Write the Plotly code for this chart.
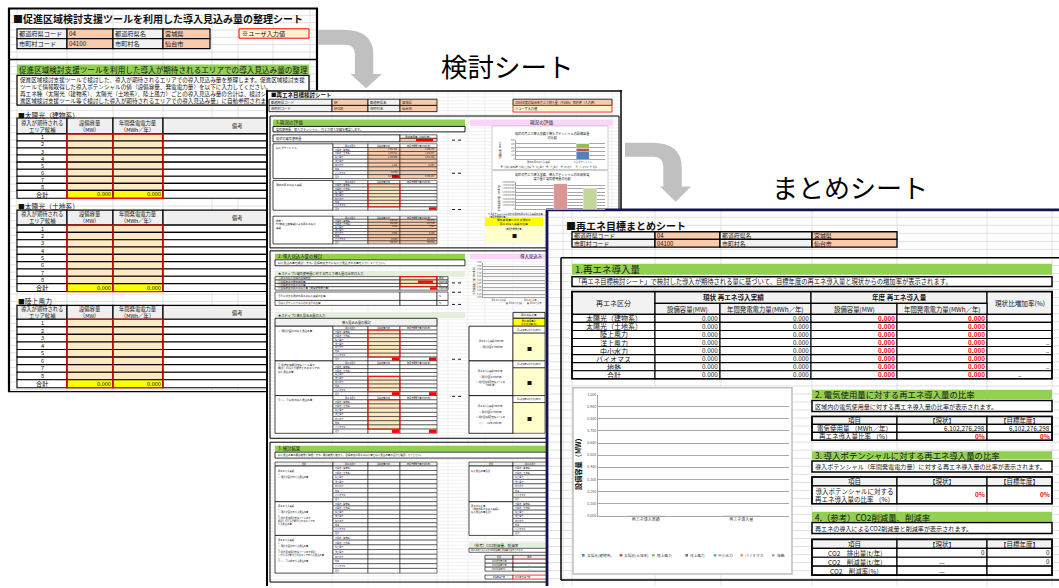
import plotly.graph_objects as go

# ======================= DATA =======================
pref_code = "04"
pref_name = "宮城県"
city_code = "04100"
city_name = "仙台市"
info_labels = ["都道府県コード", "都道府県名", "市町村コード", "市町村名"]
user_input_note = "※ユーザ入力値"
label_kentou = "検討シート"
label_matome = "まとめシート"

# --- sheet 1 (促進区域 整理シート)
s1_title = "■促進区域検討支援ツールを利用した導入見込み量の整理シート"
s1_section = "促進区域検討支援ツールを利用した導入が期待されるエリアでの導入見込み量の整理"
s1_desc = [
    "促進区域検討支援ツールで検討した、導入が期待されるエリアでの導入見込み量を整理します。促進区域検討支援",
    "ツールで情報取得した導入ポテンシャルの値（設備容量、発電電力量）を以下に入力してください。",
    "再エネ種（太陽光（建物系）、太陽光（土地系）、陸上風力）ごとの導入見込み量の合計は、検討シ",
    "進区域検討支援ツール等で検討した導入が期待されるエリアでの導入見込み量」に自動参照されま",
]
s1_tables = ["■太陽光（建物系）", "■太陽光（土地系）", "■陸上風力"]
s1_headers = ["導入が期待される<br>エリア候補", "設備容量<br>（MW）", "年間発電電力量<br>（MWh／年）", "備考"]
s1_area_no = ["1", "2", "3", "4", "5", "6", "7", "8"]
s1_total_label = "合計"
s1_total_mw = [0.000, 0.000, 0.000]
s1_total_mwh = [0.000, 0.000, 0.000]

# --- sheet 2 (検討シート)
s2_title = "■再エネ目標検討シート"
s2_target_note = "2050年度の自治体再エネ導入量（千kWh）目標値（入力値）"
s2_headers = ["再エネ区分", "設備容量(MW)", "年間発電電力量(MWh/年)"]
s2_categories = ["太陽光（建物系）", "太陽光（土地系）", "陸上風力", "洋上風力", "中小水力", "地熱", "バイオマス", "合計"]
s2_potential_mw = ["1,961.301", "1,078.512", "2,183.000", "-", "2.341", "-", "52.800", "5,277.954"]
s2_potential_mwh = ["2,456,180", "1,342,067", "4,921,553", "-", "12,307", "-", "-", "8,732,107"]
s2_actual_mw = ["", "", "", "", "", "", "", ""]
s2_actual_mwh = ["-", "-", "-", "-", "-", "-", "-", ""]
s2_fit_mw = ["130.412", "512.080", "3.960", "-", "0.985", "-", "33.020", "680.457"]
s2_fit_mwh = ["151,284", "617,930", "7,920", "-", "5,180", "-", "211,328", "993,642"]
s2_dash = ["-", "-", "-", "-", "-", "-", "-", ""]
s2_step1_labels = ["①再エネ導入目標の目標年度", "②目標年度の電気使用量", "③目標年度の再エネ比率",
                   "④目標年度の再エネ導入量（年間発電電力量）", "⑤④に対する現状の再エネ導入実績の比率",
                   "⑥導入ポテンシャルに対する④の比率"]
s2_step1_units = ["年度", "MWh/年", "%", "MWh/年", "%", "%"]
s2_block_labels = ["① 現計計画分の導入見込み量",
                   "② 促進区域検討支援ツール等で<br>検討した導入が期待されるエリアの<br>導入見込み量",
                   "③ ①、②以外の導入見込み量"]
s2_block_right = ["再エネ導入実績(MWh/年)<br>+<br>① 現計計画分(MWh/年)",
                  "再エネ導入実績(MWh/年)<br>+<br>① 現計計画分(MWh/年)<br>+<br>② 促進区域検討支援ツール等<br>(MWh/年)",
                  "再エネ導入実績(MWh/年)<br>+<br>① 現計計画分(MWh/年)<br>+<br>② 促進区域検討支援ツール等<br>+<br>③ ①、②以外(MWh/年)"]
s2_result_labels = ["再エネ導入実績<br>+<br>① 現計計画分の導入見込み量",
                    "再エネ導入実績<br>+<br>① 現計計画分の導入見込み量<br>+<br>② 促進区域検討支援ツール等で<br>検討した導入が期待されるエリアの<br>導入見込み量",
                    "再エネ導入実績<br>+<br>① 現計計画分の導入見込み量<br>+<br>② 促進区域検討支援ツール等で検討<br>した導入が期待されるエリアの導入見込み量<br>+<br>③ ①、②以外の導入見込み量"]
s2_result_right = ["導入見込み量合計", "再エネ導入量<br>（現状の再エネ導入実績＋<br>導入見込み量合計）"]
s2_co2_rows = ["項目", "CO2 排出量(t/年)", "CO2 削減量(t/年)", "CO2 削減率(%)"]
s2_co2_vals = ["現状", "", "－", "－"]

# chart 1 in 検討シート (設備容量 stacked)
kc1_categories = ["現状の再エネ導入実績", "導入ポテンシャル"]
kc1_solar_building = [0, 200]
kc1_solar_land = [0, 85]
kc1_wind = [0, 130]
kc1_offshore = [0, 0]
kc1_hydro = [0, 0]
kc1_biomass = [0, 0]
kc1_geo = [0, 0]
kc1_ticks = [0, 100, 200, 300, 400, 500]
# chart 2 in 検討シート (年間発電電力量)
kc2_categories = ["現状の再エネ導入実績", "導入ポテンシャル", "電気使用量"]
kc2_values = [0, 7500000000, 6102276298]
kc2_colors = ["#4f81bd", "#d99694", "#c3d69b"]
# chart 3 in 検討シート (導入見込み)
kc3_categories = ["再エネ導入実績", "再エネ導入量"]
kc3_actual = [0, 0]
kc3_planned = [0, 0]
kc3_names = ["再エネ導入実績", "再エネ導入量"]

# --- sheet 3 (まとめシート)
s3_title = "■再エネ目標まとめシート"
s3_sec1 = "1.再エネ導入量"
s3_sec1_desc = "「再エネ目標検討シート」で検討した導入が期待される量に基づいて、目標年度の再エネ導入量と現状からの増加率が表示されます。"
s3_head_top = ["再エネ区分", "現状 再エネ導入実績", "年度 再エネ導入量", "現状比増加率(%)"]
s3_head_sub = ["設備容量(MW)", "年間発電電力量(MWh／年)", "設備容量(MW)", "年間発電電力量(MWh／年)"]
re_categories = ["太陽光（建物系）", "太陽光（土地系）", "陸上風力", "洋上風力", "中小水力", "バイオマス", "地熱", "合計"]
current_mw = [0.000, 0.000, 0.000, 0.000, 0.000, 0.000, 0.000, 0.000]
current_mwh = [0.000, 0.000, 0.000, 0.000, 0.000, 0.000, 0.000, 0.000]
target_mw = [0.000, 0.000, 0.000, 0.000, 0.000, 0.000, 0.000, 0.000]
target_mwh = [0.000, 0.000, 0.000, 0.000, 0.000, 0.000, 0.000, 0.000]
increase_rate = ["", "", "", "–", "–", "", "–", "–"]

s3_sec2 = "2. 電気使用量に対する再エネ導入量の比率"
s3_sec2_desc = "区域内の電気使用量に対する再エネ導入量の比率が表示されます。"
s3_cols = ["項目", "【現状】", "【目標年度】"]
elec_label = "電気使用量 （MWh／年）"
elec_use = [6102276298, 6102276298]
re_ratio_label = "再エネ導入量比率 （%）"
re_ratio = ["0%", "0%"]
s3_sec3 = "3. 導入ポテンシャルに対する再エネ導入量の比率"
s3_sec3_desc = "導入ポテンシャル（年間発電電力量）に対する再エネ導入量の比率が表示されます。"
pot_label = "導入ポテンシャルに対する<br>再エネ導入量の比率 （%）"
pot_ratio = ["0%", "0%"]
s3_sec4 = "4.（参考）CO2削減量、削減率"
s3_sec4_desc = "再エネの導入によるCO2削減量と削減率が表示されます。"
co2_labels = ["CO2　排出量(t/年)", "CO2　削減量(t/年)", "CO2　削減率(%)"]
co2_current = ["0", "—", "—"]
co2_target = ["0", "0", ""]

mc_categories = ["再エネ導入実績", "再エネ導入量"]
mc_series = ["太陽光(建物系)", "太陽光(土地系)", "陸上風力", "洋上風力", "中小水力", "バイオマス", "地熱"]
mc_solar_building = [0, 0]
mc_solar_land = [0, 0]
mc_wind = [0, 0]
mc_offshore = [0, 0]
mc_hydro = [0, 0]
mc_biomass = [0, 0]
mc_geo = [0, 0]
mc_colors = ["#4f81bd", "#c0504d", "#9bbb59", "#8064a2", "#4bacc6", "#f79646", "#95b3d7"]
mc_ytitle = "設備容量（MW）"

# ======================= HELPERS =======================
FONT = "Noto Sans CJK JP"
W, H = 1059, 588
shapes = []
annotations = []


def rect(x0, y0, x1, y1, fill=None, line=None, lw=1.0):
    shapes.append(dict(type="rect", xref="x", yref="y", x0=x0, y0=y0, x1=x1, y1=y1,
                       fillcolor=fill if fill else "rgba(0,0,0,0)",
                       line=dict(color=line if line else "rgba(0,0,0,0)", width=lw if line else 0),
                       layer="below"))


def seg(x0, y0, x1, y1, color="#000000", lw=1.0, dash="solid"):
    shapes.append(dict(type="line", xref="x", yref="y", x0=x0, y0=y0, x1=x1, y1=y1,
                       line=dict(color=color, width=lw, dash=dash), layer="below"))


def path(d, fill):
    shapes.append(dict(type="path", xref="x", yref="y", path=d, fillcolor=fill,
                       line=dict(width=0, color=fill), layer="below"))


def text(x, y, s, size, color="#111111", anchor="left", bold=False, angle=0, va="middle"):
    if s == "":
        return
    if bold:
        s = "<b>" + s + "</b>"
    annotations.append(dict(x=x, y=y, xref="x", yref="y", text=s, showarrow=False,
                            xanchor=anchor, yanchor=va, textangle=angle, borderpad=0,
                            align="center" if anchor == "center" else anchor,
                            font=dict(family=FONT, size=size, color=color)))


def grid(x0, y0, x1, y1, xs, dy, color, lw):
    y = y0 + dy
    while y < y1:
        seg(x0, y, x1, y, color, lw)
        y += dy
    for x in xs:
        seg(x, y0, x, y1, color, lw)


def info_block(xs, ys, size, lw, nudge=0.0):
    cells = [[info_labels[0], pref_code, info_labels[1], pref_name],
             [info_labels[2], city_code, info_labels[3], city_name]]
    for r in range(2):
        for c in range(4):
            fill = "#f2f2f2" if c % 2 == 0 else "#f8cbad"
            rect(xs[c], ys[r], xs[c + 1], ys[r + 1], fill, "#000000", lw)
            off = -nudge if r == 0 else nudge
            text(xs[c] + size * 0.2, (ys[r] + ys[r + 1]) / 2 + off, cells[r][c], size)


def f3(v):
    return f"{v:,.3f}"


FILL = {"salmon": "#f8cbad", "input": "#fde9c4", "white": "#ffffff"}

# ======================= SHEET 1 =======================
rect(8, 5, 318, 392, "#ffffff")
grid(8, 5, 318, 392, [17, 67, 113, 163, 212, 238, 273, 310], 7.4, "#d6d6d6", 0.7)
seg(9, 5, 9, 392, "#000000", 2.2)
seg(8, 5.5, 318, 5.5, "#000000", 2.0)
seg(317, 5, 317, 392, "#000000", 2.2)
seg(8, 392, 318, 392, "#000000", 1.2)
text(12, 15.5, s1_title, 10, bold=True)
info_block([17, 67, 113, 163, 210], [26, 36, 46], 6.2, 1.2)
rect(239, 26, 309, 35.5, "#fff2cc", "#ff0000", 1.0)
text(241, 30.8, user_input_note, 6.2)
seg(8, 57, 318, 57, "#000000", 1.5)
rect(17, 62, 309, 72, "#92d050")
text(18, 67, s1_section, 7.6)
rect(17, 73, 309, 103, "#ffffff", "#000000", 1.2)
for i, line in enumerate(s1_desc):
    text(18.5, 77.5 + 7 * i, line, 5.6)

s1_layout = [(112.5, 116, 132, 132, 189, 197), (204.5, 209, 224, 224, 283, 291), (301, 305, 319, 319, 380, 388)]
cx = [17, 67, 113, 163, 285]
for t, (ly, h0, h1, r0, r1, t1) in enumerate(s1_layout):
    text(17, ly, s1_tables[t], 6.8)
    for c in range(4):
        rect(cx[c], h0, cx[c + 1], h1, "#efefef", "#000000", 1.2)
        text((cx[c] + cx[c + 1]) / 2 if c < 3 else 237, (h0 + h1) / 2 + 0.3, s1_headers[c], 5.3, anchor="center")
    rh = (r1 - r0) / len(s1_area_no)
    for i, no in enumerate(s1_area_no):
        y0 = r0 + rh * i
        y1 = y0 + rh
        rect(cx[0], y0, cx[1], y1, "#ffffff", "#000000", 1.1)
        rect(cx[1], y0, cx[2], y1, "#fde9c4", "#000000", 1.1)
        rect(cx[2], y0, cx[3], y1, "#fde9c4", "#000000", 1.1)
        rect(cx[3], y0, cx[4], y1, "#ffffff", "#000000", 1.1)
        text(42, (y0 + y1) / 2, no, 5.6, anchor="center")
    rect(cx[0], r1, cx[1], t1, "#ffffff", "#000000", 1.1)
    text(42, (r1 + t1) / 2, s1_total_label, 6.2, anchor="center")
    rect(cx[1], r1, cx[2], t1, "#ffff00", "#000000", 1.1)
    text(cx[2] - 1.5, (r1 + t1) / 2, f3(s1_total_mw[t]), 5.6, anchor="right")
    rect(cx[2], r1, cx[3], t1, "#ffff00", "#000000", 1.1)
    text(cx[3] - 1.5, (r1 + t1) / 2, f3(s1_total_mwh[t]), 5.6, anchor="right")
    rect(cx[3], r1, cx[4], t1, "#ffffff", "#000000", 1.1)
    rect(cx[1], r0, cx[3], t1, None, "#ff0000", 1.3)
    seg(cx[2], r0, cx[2], t1, "#ff0000", 1.3)

# ======================= SHEET 2 =======================
rect(266, 88, 622, 595, "#ffffff")
grid(266, 88, 622, 595, [332, 368, 400, 437, 448, 468, 485, 513, 545, 577, 612], 3.45, "#e2e2e2", 0.5)
seg(267, 88, 267, 595, "#000000", 2.0)
seg(266, 88.7, 622, 88.7, "#000000", 1.5)
seg(621, 88, 621, 595, "#000000", 1.5)
text(270, 93, s2_title, 5.5, bold=True)
info_block([269, 332, 368, 400, 437], [97, 103.3, 109.6], 3.3, 0.8)
rect(513, 97, 612, 103.3, "#f8cbad", "#000000", 0.8)
text(514, 100.2, s2_target_note, 3.0)
rect(513, 103.3, 612, 110, "#fff2cc", "#ff0000", 0.8)
text(514, 106.7, user_input_note, 3.2)

# section 1
rect(270, 114, 619, 247, None, "#000000", 1.0)
rect(273, 117.5, 465, 124, "#92d050")
text(275, 120.8, "1.現況の評価", 4.6)
rect(470, 117.5, 613, 124, "#fbd3fb")
text(541, 120.8, "現況の評価", 4.6, anchor="center")
rect(273, 124.5, 465, 130, "#ffffff", "#000000", 0.9)
text(275, 127.3, "電気使用量、導入ポテンシャル、再エネ導入実績を確認します。", 3.0)
rect(273, 133, 400, 140, "#ffffff", "#000000", 0.8)
text(275, 136.5, "現状の電気使用量", 3.2)
rect(400, 133, 437, 136.5, "#ffffff", "#000000", 0.6)
text(418.5, 134.8, "現状使用量（MWh/年）", 2.5, anchor="center")
rect(400, 136.5, 437, 140, "#f8cbad", "#000000", 0.6)
rect(416, 137, 433, 139.6, "#ff0000")
s2cx = [333, 368, 400, 437]


def s2_table(lx0, y0, y1, label, style2, style3, vals2, vals3, red2=False, red3=False, inp=None):
    rect(lx0, y0, 333, y1, "#ffffff", "#000000", 0.7)
    text(lx0 + 1.5, y0 + 1.5, label, 2.6, va="top")
    n = len(s2_categories) + 1
    rh = (y1 - y0) / n
    for c in range(3):
        rect(s2cx[c], y0, s2cx[c + 1], y0 + rh, "#ffffff", "#000000", 0.5)
        text((s2cx[c] + s2cx[c + 1]) / 2, y0 + rh / 2, s2_headers[c], 2.1, anchor="center")
    for i, cat in enumerate(s2_categories):
        a = y0 + rh * (i + 1)
        b = a + rh
        rect(s2cx[0], a, s2cx[1], b, "#ffffff", "#000000", 0.5)
        text(s2cx[0] + 0.8, (a + b) / 2, cat, 2.1)
        for j, (style, vals) in enumerate([(style2, vals2), (style3, vals3)]):
            st = style
            if st == "input" and inp is not None and not (inp[0] <= i < inp[1]):
                st = "white"
            if st == "input" and i == len(s2_categories) - 1:
                st = "white"
            rect(s2cx[j + 1], a, s2cx[j + 2], b, FILL[st], "#000000", 0.5)
            text(s2cx[j + 2] - 0.8, (a + b) / 2, vals[i], 2.1, anchor="right")
    last_a = y0 + rh * (n - 1)
    if red2:
        rect(392, last_a + 0.4, 399.5, y1 - 0.4, "#ff0000")
    if red3:
        rect(429, last_a + 0.4, 436.5, y1 - 0.4, "#ff0000")
    for j, style in enumerate([style2, style3]):
        if style == "input":
            s0, s1_ = (inp if inp is not None else (0, len(s2_categories) - 1))
            rect(s2cx[j + 1], y0 + rh * (s0 + 1), s2cx[j + 2], y0 + rh * (s1_ + 1), None, "#ff0000", 0.9)


s2_table(273, 142, 177, "導入ポテンシャル", "salmon", "salmon", s2_potential_mw, s2_potential_mwh, red2=True)
s2_table(273, 179, 209, "現状の再エネ導入実績", "input", "white", s2_actual_mw, s2_actual_mwh, red3=True)
s2_table(273, 215, 243, "参考：<br>FIT制度公表情報による再エネ導入<br>実績", "salmon", "salmon", s2_fit_mw, s2_fit_mwh)
for yy in [138.3, 171.7, 208.3]:
    seg(452, yy, 462, yy, "#000000", 0.9, "dot")

# charts frames (section 1)
rect(492, 124, 608, 168, "#ffffff", "#bfbfbf", 0.8)
text(552, 133.5, "現状の再エネ導入実績と導入ポテンシャルの設備容量<br>の比較", 3.1, anchor="center")
text(500, 148, "設備容量（MW）", 2.3, anchor="center", angle=-90)
kc1_series = [kc1_solar_building, kc1_solar_land, kc1_wind, kc1_offshore, kc1_hydro, kc1_biomass, kc1_geo]
kc1_leg_x = [501.7, 516.7, 533.3, 547.3, 561.7, 576.7, 590.7]
for k, name in enumerate(mc_series):
    rect(kc1_leg_x[k] - 0.9, 164, kc1_leg_x[k] + 0.9, 165.8, mc_colors[k])
    text(kc1_leg_x[k] + 1.3, 165, name, 1.9, color="#404040")
rect(492, 169, 608, 214, "#ffffff", "#bfbfbf", 0.8)
text(552, 175, "現状の再エネ導入実績、導入ポテンシャルの年間発電<br>電力量と電気使用量の比較", 3.1, anchor="center")
text(499, 196, "年間発電電力量（MWh/年）", 2.2, anchor="center", angle=-90)
text(487, 214, "導入ポテンシャルに対する現状の再エネ導入実績の比率<br>（年間発電電力量）", 2.2, va="middle")
rect(485, 216, 543, 225, "#ffff00")
text(514, 220.5, "電気使用量に対する現状の<br>再エネ導入実績の比率", 2.8, anchor="center")
rect(485, 225, 543, 242, "#ffffcc")
text(514, 227.5, "（年間発電電力量）", 2.2, anchor="center")
text(514, 233.5, "■", 5.0, anchor="center")

# section 2
rect(270, 250, 619, 439, None, "#000000", 1.0)
rect(275, 253, 465, 258.5, "#92d050")
text(277, 255.8, "2. 導入見込み量の検討", 4.4)
rect(470, 253, 547, 258.5, "#fbd3fb")
text(519, 255.8, "導入見込み", 4.4)
rect(275, 259, 465, 265, "#ffffff", "#000000", 0.8)
text(277, 262, "導入見込み量を検討します。目標年度までに導入が見込まれる量を入力してください。", 2.8)
rect(275, 270, 465, 276, "#e2efda")
text(277, 273, "★ステップ1 電気使用量に対する再エネ導入量の比率の入力", 3.2)
step_rows = [(276, 279.4), (279.4, 282.8), (282.8, 286.2), (286.2, 289.6), (291.5, 300), (300, 305)]
for i, (a, b) in enumerate(step_rows):
    rect(275, a, 400, b, "#ffffff", "#000000", 0.6)
    text(276.5, (a + b) / 2, s2_step1_labels[i], 2.5)
    rect(400, a, 437, b, "#fde9c4" if i < 3 else "#ffffff", "#000000", 0.6)
    rect(437, a, 448, b, "#ffffff", "#000000", 0.6)
    text(438, (a + b) / 2, s2_step1_units[i], 2.3)
rect(400, 276, 437, 286.2, None, "#ff0000", 0.9)
rect(418, 279.9, 433, 282.3, "#ff0000")
rect(430, 286.7, 436.5, 289.1, "#ff0000")
for yy in [282.3, 291.7, 304, 359.3, 396.7]:
    seg(452, yy, 462, yy, "#000000", 0.9, "dot")
rect(275, 312, 465, 318, "#e2efda")
text(277, 315, "★ステップ2 導入見込み量の入力", 3.2)
rect(275, 318, 437, 326, "#f2f2f2", "#000000", 0.8)
text(356, 322, "導入見込み量の検討", 3.2, anchor="center")
s2_table(275, 326, 361, s2_block_labels[0], "input", "white", s2_actual_mw, s2_dash, red2=True, red3=True)
s2_table(275, 361, 396, s2_block_labels[1], "input", "white", s2_dash, s2_dash, red2=True, red3=True, inp=(3, 7))
s2_table(275, 396, 434, s2_block_labels[2], "input", "white", s2_actual_mw, s2_dash, red2=True, red3=True)
rect(513, 312, 545, 318, "#f2f2f2", "#000000", 0.8)
text(529, 315, "再エネ導入量", 2.6, anchor="center")
rect(513, 318, 545, 326, "#ffff00", "#000000", 0.8)
text(529, 322, "電気使用量に<br>対する比率(%)", 2.4, anchor="center")
for k, (a, b) in enumerate([(326, 361), (361, 396), (396, 434)]):
    rect(469, a, 513, b, "#ffffff", "#000000", 0.8)
    text(491, (a + b) / 2, s2_block_right[k], 2.2, anchor="center")
    rect(513, a, 545, a + 7, "#ffffff", "#000000", 0.6)
    text(529, a + 3.5, "電気使用量に対する比率(%)", 1.9, anchor="center")
    rect(513, a + 7, 545, b, "#ffffcc", "#000000", 0.6)
    text(529, (a + 7 + b) / 2, "■", 5.0, anchor="center")
text(474.5, 279.5, "年間発電電力量（MWh/年）", 2.3, anchor="center", angle=-90)
for k, nm in enumerate(kc3_names):
    lx = [507, 528][k]
    rect(lx - 0.9, 302.1, lx + 0.9, 303.9, ["#4f81bd", "#c0504d"][k])
    text(lx + 1.3, 303, nm, 1.9, color="#404040")

# section 3
rect(270, 443, 619, 584, None, "#000000", 1.0)
rect(275, 446.5, 547, 452.5, "#92d050")
text(277, 449.5, "3. 検討結果", 4.4)
rect(275, 453, 547, 459, "#ffffff", "#000000", 0.8)
text(277, 456, "導入見込み量の検討結果を整理します。検討結果を踏まえ、目標年度の再エネ導入量と導入見込み量の合計を確認してください。", 2.5)
hdr4 = ["項目"] + s2_headers
hx = [275, 333, 368, 400, 437]
for c in range(4):
    rect(hx[c], 463, hx[c + 1], 467, "#f2f2f2", "#000000", 0.6)
    text((hx[c] + hx[c + 1]) / 2, 465, hdr4[c], 2.1, anchor="center")
for k, (a, b) in enumerate([(467, 503), (503, 537), (537, 575)]):
    rect(275, a, 333, b, "#ffffff", "#000000", 0.7)
    text(276.5, a + 1.5, s2_result_labels[k], 2.3, va="top")
    rh = (b - a) / len(s2_categories)
    for i, cat in enumerate(s2_categories):
        y0 = a + rh * i
        rect(333, y0, 368, y0 + rh, "#ffffff", "#000000", 0.5)
        text(334, y0 + rh / 2, cat, 2.1)
        rect(368, y0, 400, y0 + rh, "#ffffff", "#000000", 0.5)
        text(399, y0 + rh / 2, "-", 2.4, anchor="right")
        rect(400, y0, 437, y0 + rh, "#ffffff", "#000000", 0.5)
        text(436, y0 + rh / 2, "-", 2.4, anchor="right")
for c, (x0, x1) in enumerate([(469, 513), (513, 547)]):
    rect(x0, 463, x1, 467, "#f2f2f2", "#000000", 0.6)
    text((x0 + x1) / 2, 465, ["項目", "再エネ区分"][c], 2.1, anchor="center")
for k, (a, b) in enumerate([(467, 503), (503, 537)]):
    rect(469, a, 513, b, "#ffffff", "#000000", 0.7)
    text(470, a + 1.5, s2_result_right[k], 2.4, va="top")
    rh = (b - a) / len(s2_categories)
    for i, cat in enumerate(s2_categories):
        y0 = a + rh * i
        rect(513, y0, 547, y0 + rh, "#ffffff", "#000000", 0.5)
        text(514, y0 + rh / 2, cat, 2.1)
rect(469, 544, 547, 550, "#e2efda")
text(471, 547, "（参考）CO2削減量、削減率", 3.6)
rect(469, 550, 547, 554, "#ffffff", "#000000", 0.6)
text(470, 552, "再エネの導入によるCO2削減量と削減率が表示されます。", 2.1)
for i, lab in enumerate(s2_co2_rows):
    a = 557 + 4 * i
    rect(485, a, 513, a + 4, "#f2f2f2" if i == 0 else "#ffffff", "#000000", 0.6)
    text(499, a + 2, lab, 2.0, anchor="center")
    rect(513, a, 547, a + 4, "#f2f2f2" if i == 0 else "#ffffff", "#ff0000" if i == 1 else "#000000", 0.7)
    text(529, a + 2, s2_co2_vals[i], 2.2, anchor="center")
rect(485, 577, 513, 581, "#ffffff", "#000000", 0.6)
text(499, 579, "削減率基準年", 2.0, anchor="center")
rect(513, 577, 547, 581, "#ffffff", "#ff0000", 0.8)
text(514, 579, "2013年度(基準年)", 2.0)

# ======================= SHEET 3 =======================
rect(546, 208, 1070, 600, "#ffffff")
grid(546, 208, 1070, 600, [563, 572, 655, 721, 812, 897, 987, 1052], 8.1, "#d9d9d9", 0.8)
seg(547, 208, 547, 600, "#141450", 2.8)
seg(546, 208.6, 1070, 208.6, "#141450", 2.6)
text(565, 224, s3_title, 10, bold=True)
info_block([572, 655, 720, 812, 897], [230.7, 238.4, 246.3], 5.9, 1.3, nudge=0.4)
seg(561, 257, 1070, 257, "#000000", 1.5)
seg(561, 257, 561, 582, "#000000", 1.5)
seg(561, 582, 1070, 582, "#000000", 1.5)
rect(572, 263, 1052, 274, "#92d050")
text(574, 268.5, s3_sec1, 9.5)
rect(572, 276, 1052, 286, "#ffffff", "#000000", 1.5)
text(574, 281, s3_sec1_desc, 6.3)

tx = [572, 655, 720, 811, 897, 987, 1052]
rect(tx[0], 291, tx[1], 314, "#f2f2f2", "#000000", 1.2)
text((tx[0] + tx[1]) / 2, 302.5, s3_head_top[0], 7.0, anchor="center")
rect(tx[1], 291, tx[3], 303, "#f2f2f2", "#000000", 1.2)
text((tx[1] + tx[3]) / 2, 297, s3_head_top[1], 6.6, anchor="center", bold=True)
rect(tx[3], 291, tx[5], 303, "#f2f2f2", "#000000", 1.2)
text((tx[3] + tx[5]) / 2, 297, s3_head_top[2], 6.6, anchor="center", bold=True)
rect(tx[5], 291, tx[6], 314, "#f2f2f2", "#000000", 1.2)
text((tx[5] + tx[6]) / 2, 302.5, s3_head_top[3], 6.6, anchor="center")
for c in range(4):
    rect(tx[c + 1], 303, tx[c + 2], 314, "#f2f2f2", "#000000", 1.2)
    text((tx[c + 1] + tx[c + 2]) / 2, 308.7, s3_head_sub[c], 6.4, anchor="center")
rh = (379 - 314) / len(re_categories)
for i, cat in enumerate(re_categories):
    a = 314 + rh * i
    b = a + rh
    m = (a + b) / 2
    for c in range(6):
        rect(tx[c], a, tx[c + 1], b, "#ffffff", "#000000", 1.1)
    text((tx[0] + tx[1]) / 2, m, cat, 7.0, anchor="center")
    text(tx[2] - 1.5, m, f3(current_mw[i]), 6.3, anchor="right")
    text(tx[3] - 1.5, m, f3(current_mwh[i]), 6.3, anchor="right")
    text(tx[4] - 1.5, m, f3(target_mw[i]), 6.3, color="#ff0000", anchor="right", bold=True)
    text(tx[5] - 1.5, m, f3(target_mwh[i]), 6.3, color="#ff0000", anchor="right", bold=True)
    if i == len(re_categories) - 1:
        text((tx[5] + tx[6]) / 2, m, increase_rate[i], 6.5, anchor="center")
    else:
        text(tx[6] - 0.8, m, increase_rate[i], 6.5, anchor="right")
rect(tx[0], 291, tx[6], 379, None, "#000000", 1.6)

# chart box
rect(573, 388, 792, 576, "#ffffff", "#bfbfbf", 1.5)
text(578, 463, mc_ytitle, 7.2, anchor="center", bold=True, angle=-90)
mc_leg_x = [583.3, 621, 653.3, 686.7, 715, 741.7, 773.3]
for k, name in enumerate(mc_series):
    rect(mc_leg_x[k] - 1.3, 555.7, mc_leg_x[k] + 1.3, 558.3, mc_colors[k])
    text(mc_leg_x[k] + 2.2, 557, name, 3.7, color="#404040")

sx = [812, 897, 987, 1052]


def s3_section(y_green, title, desc, y_desc):
    rect(812, y_green[0], 1052, y_green[1], "#92d050")
    text(813.5, (y_green[0] + y_green[1]) / 2, title, 8.4)
    rect(812, y_desc[0], 1052, y_desc[1], "#ffffff", "#000000", 1.5)
    text(813.5, (y_desc[0] + y_desc[1]) / 2, desc, 6.1)


def s3_header(a, b):
    for c in range(3):
        rect(sx[c], a, sx[c + 1], b, "#f2f2f2", "#000000", 1.2)
        text((sx[c] + sx[c + 1]) / 2, (a + b) / 2, s3_cols[c], 6.5, anchor="center")


s3_section((390, 399.5), s3_sec2, s3_sec2_desc, (401, 412))
s3_header(417, 425)
rows2 = [(elec_label, [f"{v:,}" for v in elec_use], "#111111"), (re_ratio_label, re_ratio, "#ff0000")]
for i, (lab, vals, col) in enumerate(rows2):
    a = 425 + 8 * i
    for c in range(3):
        rect(sx[c], a, sx[c + 1], a + 8, "#ffffff", "#000000", 1.2)
    text((sx[0] + sx[1]) / 2, a + 4, lab, 6.5, anchor="center")
    for c in range(2):
        text(sx[c + 2] - 1.5, a + 4, vals[c], 6.3, color=col, anchor="right", bold=(col != "#111111"))
rect(812, 417, 1052, 441, None, "#000000", 1.6)

s3_section((452, 460.5), s3_sec3, s3_sec3_desc, (462, 473))
s3_header(478, 487)
for c in range(3):
    rect(sx[c], 487, sx[c + 1], 505, "#ffffff", "#000000", 1.2)
text((sx[0] + sx[1]) / 2, 496, pot_label, 6.5, anchor="center")
for c in range(2):
    text(sx[c + 2] - 1.5, 496, pot_ratio[c], 6.3, color="#ff0000", anchor="right", bold=True)
rect(812, 478, 1052, 505, None, "#000000", 1.6)

s3_section((513, 523), s3_sec4, s3_sec4_desc, (524, 535))
s3_header(541, 550)
for i, lab in enumerate(co2_labels):
    a = 550 + 9 * i
    for c in range(3):
        rect(sx[c], a, sx[c + 1], a + 9, "#ffffff", "#000000", 1.2)
    text((sx[0] + sx[1]) / 2, a + 4.5, lab, 6.5, anchor="center")
    for c, v in enumerate([co2_current[i], co2_target[i]]):
        if v == "—":
            text((sx[c + 1] + sx[c + 2]) / 2, a + 4.5, v, 6.5, anchor="center")
        else:
            text(sx[c + 2] - 1.5, a + 4.5, v, 6.3, anchor="right")
rect(812, 541, 1052, 577, None, "#000000", 1.6)

# ======================= ARROWS & LABELS =======================
path("M318,27 L343,27 Q373.3,27 373.3,52 L373.3,71.7 L382,71.7 L366,86 L350.5,71.7 L355,71.7 "
     "L355,52 Q355,42 345,42 L318,42 Z", "#c0c0c0")
path("M625,141 L652,141 Q681.7,141 681.7,166 L681.7,185 L691,185 L675.7,200.5 L660,185 L663.3,185 "
     "L663.3,165 Q663.3,155 653,155 L625,155 Z", "#c0c0c0")
text(507, 63, label_kentou, 26.5, color="#000000", anchor="center")
text(850, 185, label_matome, 26, color="#000000", anchor="center")

# ======================= FIGURE & TRACES =======================
fig = go.Figure()
fig.add_trace(go.Scatter(x=[0], y=[0], mode="markers", marker=dict(opacity=0), hoverinfo="skip", showlegend=False))

mc_values = [mc_solar_building, mc_solar_land, mc_wind, mc_offshore, mc_hydro, mc_biomass, mc_geo]
for k, name in enumerate(mc_series):
    fig.add_trace(go.Bar(x=mc_categories, y=mc_values[k], name=name, marker_color=mc_colors[k],
                         width=0.4, xaxis="x2", yaxis="y2", showlegend=False))
for k, name in enumerate(mc_series):
    fig.add_trace(go.Bar(x=kc1_categories, y=kc1_series[k], name=name, marker_color=mc_colors[k],
                         width=0.3, xaxis="x3", yaxis="y3", showlegend=False))
fig.add_trace(go.Bar(x=kc2_categories, y=kc2_values, marker_color=kc2_colors, width=0.45,
                     xaxis="x4", yaxis="y4", showlegend=False))
fig.add_trace(go.Bar(x=kc3_categories, y=kc3_actual, marker_color="#4f81bd", width=0.4,
                     xaxis="x5", yaxis="y5", showlegend=False))
fig.add_trace(go.Bar(x=kc3_categories, y=kc3_planned, marker_color="#c0504d", width=0.4,
                     xaxis="x5", yaxis="y5", showlegend=False))


def dx(a, b):
    return [a / W, b / W]


def dy(top, bottom):
    return [1 - bottom / H, 1 - top / H]


def cat_axis(dom, anchor, size, show=True):
    return dict(domain=dom, anchor=anchor, showline=True, linecolor="#a6a6a6", linewidth=1,
                ticks="", showgrid=False, fixedrange=True, showticklabels=show,
                tickfont=dict(family=FONT, size=size, color="#404040"))


def val_axis(dom, anchor, rng, dtick, fmt, size, gw):
    return dict(domain=dom, anchor=anchor, range=rng, dtick=dtick, tickformat=fmt, showgrid=True,
                gridcolor="#a6a6a6", gridwidth=gw, showline=True, linecolor="#a6a6a6", linewidth=1,
                ticks="", zeroline=False, fixedrange=True,
                tickfont=dict(family=FONT, size=size, color="#595959"))


fig.update_layout(
    width=W, height=H, margin=dict(l=0, r=0, t=0, b=0, pad=0),
    paper_bgcolor="#ffffff", plot_bgcolor="rgba(0,0,0,0)",
    barmode="stack", showlegend=False,
    xaxis=dict(range=[0, W], visible=False, domain=[0, 1], fixedrange=True),
    yaxis=dict(range=[H, 0], visible=False, domain=[0, 1], fixedrange=True),
    xaxis2=cat_axis(dx(598, 789), "y2", 4.0),
    yaxis2=val_axis(dy(395, 517), "x2", [0, 1], 0.1, ".3f", 3.6, 1.3),
    xaxis3=cat_axis(dx(516, 605), "y3", 2.3),
    yaxis3=val_axis(dy(138.3, 157.7), "x3", [0, kc1_ticks[-1]], kc1_ticks[1] - kc1_ticks[0], ",d", 2.1, 0.6),
    xaxis4=cat_axis(dx(516, 605), "y4", 2.3, show=False),
    yaxis4=val_axis(dy(180.5, 208), "x4", [0, 8000000000], 1000000000, ",d", 1.9, 0.6),
    xaxis5=cat_axis(dx(483, 546), "y5", 2.1),
    yaxis5=val_axis(dy(262, 297), "x5", [0, 1], 0.1, ".3f", 1.9, 0.6),
    shapes=shapes, annotations=annotations,
    font=dict(family=FONT),
)
fig.write_html("out.html", config={"displayModeBar": False},
               post_script="document.body.style.margin='0px';document.body.style.overflow='hidden';")
